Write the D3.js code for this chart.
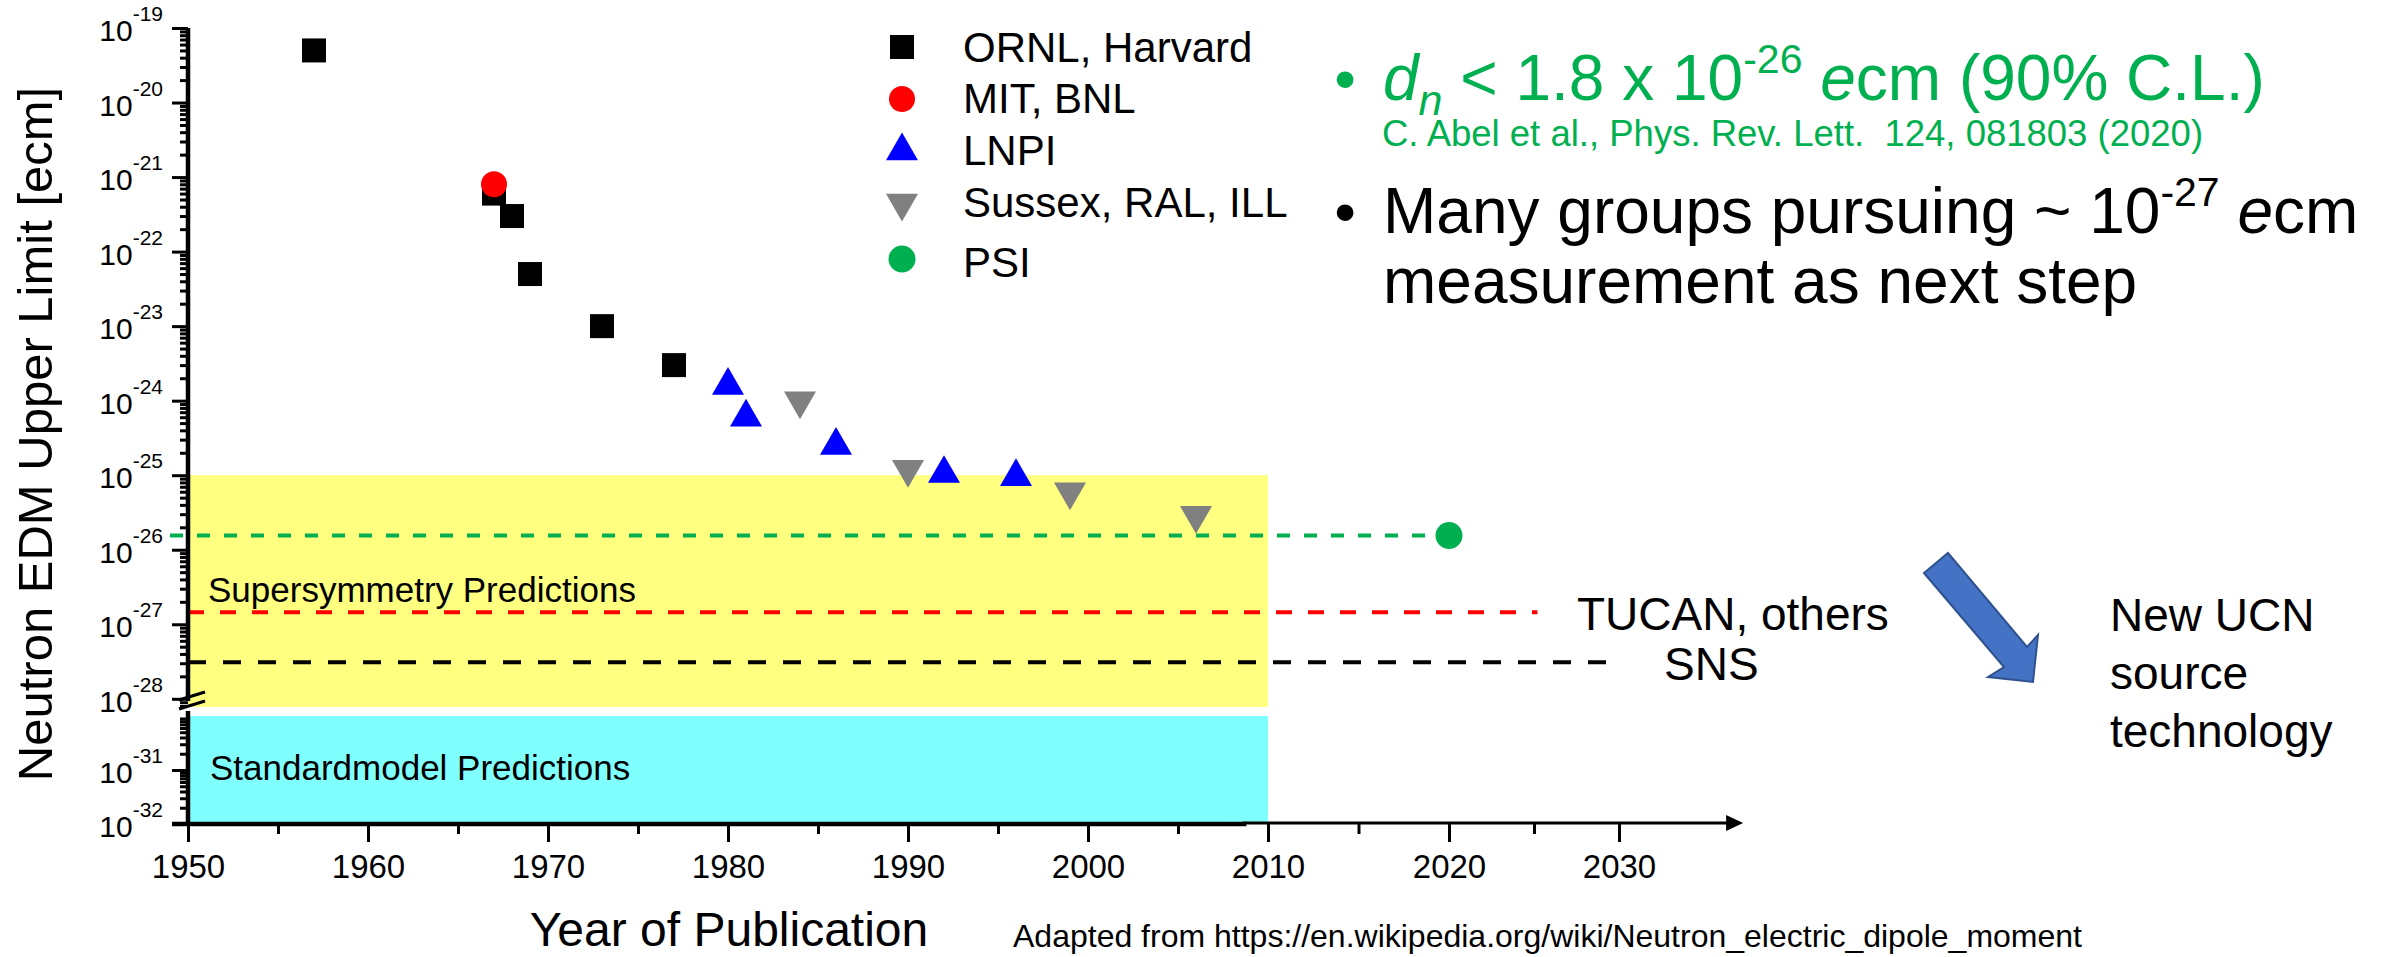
<!DOCTYPE html>
<html><head><meta charset="utf-8">
<script src="https://cdn.jsdelivr.net/npm/d3@7"></script>
<style>
body{margin:0;background:#fff}
svg{display:block}
text{font-family:"Liberation Sans",Arial,sans-serif}
</style>
</head><body>
<svg id="c" width="2387" height="957"></svg>
<script>
// ---------------- data ----------------
const seriesNames = ["ORNL, Harvard", "MIT, BNL", "LNPI", "Sussex, RAL, ILL", "PSI"];
const ornlYears = [1957, 1967, 1968, 1969, 1973, 1977];
const ornlValues = [5e-20, 6e-22, 3e-22, 5e-23, 1e-23, 3e-24];
const mitYears = [1967];
const mitValues = [8e-22];
const lnpiYears = [1980, 1981, 1986, 1992, 1996];
const lnpiValues = [1.6e-24, 6e-25, 2.5e-25, 1.05e-25, 9.5e-26];
const sussexYears = [1984, 1990, 1999, 2006];
const sussexValues = [1e-24, 1.2e-25, 6e-26, 2.9e-26];
const psiYears = [2020];
const psiValues = [1.55e-26];

const xTickYears = [1950, 1960, 1970, 1980, 1990, 2000, 2010, 2020, 2030];
const xMinorYears = [1955, 1965, 1975, 1985, 1995, 2005, 2015, 2025];
const yUpperExps = [-19, -20, -21, -22, -23, -24, -25, -26, -27, -28];
const yLowerExps = [-31, -32];

const refLineNames = ["PSI", "TUCAN, others", "SNS"];
const refLineValues = [1.55e-26, 1.45e-27, 3.1e-28];
const refLineStartYears = [1949, 1950, 1950];
const refLineEndYears = [2020, 2025.2, 2030];

const bandNames = ["Supersymmetry Predictions", "Standardmodel Predictions"];
const susyBandTop = 1e-25;
const smBand = [1e-32, 1e-30];
const bandYears = [1950, 2010];

// ---------------- scales ----------------
const svg = d3.select("#c");
const x = d3.scaleLinear().domain([1950, 2010, 2020, 2030]).range([188, 1268, 1449, 1619]);
const yUp = d3.scaleLog().domain([Math.pow(10, -28.11), 1e-19]).range([707, 28]);
const yLow = d3.scaleLog().domain([1e-32, 1e-30]).range([824, 716]);
const y = v => (v >= yUp.domain()[0] ? yUp(v) : yLow(v));

const GREEN = "#00B050", RED = "#FF0000", BLUE = "#0000FF", GRAY = "#808080";

// ---------------- bands ----------------
svg.append("rect")
  .attr("x", x(bandYears[0])).attr("width", x(bandYears[1]) - x(bandYears[0]))
  .attr("y", yUp(susyBandTop)).attr("height", yUp(yUp.domain()[0]) - yUp(susyBandTop))
  .attr("fill", "#FFFF80");
svg.append("rect")
  .attr("x", x(bandYears[0])).attr("width", x(bandYears[1]) - x(bandYears[0]))
  .attr("y", yLow(smBand[1])).attr("height", yLow(smBand[0]) - yLow(smBand[1]))
  .attr("fill", "#80FFFF");
svg.append("text").attr("x", 208).attr("y", 602).attr("font-size", 35).text(bandNames[0]);
svg.append("text").attr("x", 210).attr("y", 780).attr("font-size", 35).text(bandNames[1]);

// ---------------- reference lines ----------------
const refColors = [GREEN, RED, "#000000"];
const refDash = ["13,14", "16,16", "18,17"];
refLineValues.forEach((v, i) => {
  svg.append("line")
    .attr("x1", x(refLineStartYears[i])).attr("x2", x(refLineEndYears[i]))
    .attr("y1", y(v)).attr("y2", y(v))
    .attr("stroke", refColors[i]).attr("stroke-width", 4)
    .attr("stroke-dasharray", refDash[i]);
});
svg.append("text").attr("x", 1577).attr("y", 630).attr("font-size", 46).text(refLineNames[1]);
svg.append("text").attr("x", 1664).attr("y", 680).attr("font-size", 46).text(refLineNames[2]);

// ---------------- axes ----------------
const yAxisG = svg.append("g").attr("transform", "translate(188,0)");
const upMajor = yUpperExps.map(e => Math.pow(10, e));
const upMinor = [];
for (let e = -29; e <= -20; e++) for (let k = 2; k <= 9; k++) {
  const v = k * Math.pow(10, e);
  if (v > yUp.domain()[0] && v < 1e-19) upMinor.push(v);
}
const loMajor = yLowerExps.map(e => Math.pow(10, e));
const loMinor = [];
for (let e = -32; e <= -31; e++) for (let k = 2; k <= 9; k++) loMinor.push(k * Math.pow(10, e));

function styleAxis(g) {
  g.select(".domain").remove();
  g.selectAll(".tick line").attr("stroke", "#000").attr("stroke-width", 3);
  g.selectAll(".tick text").remove();
}
yAxisG.append("g").call(d3.axisLeft(yUp).tickValues(upMajor).tickSize(16).tickSizeOuter(0)).call(styleAxis);
yAxisG.append("g").call(d3.axisLeft(yUp).tickValues(upMinor).tickSize(8).tickSizeOuter(0)).call(styleAxis);
yAxisG.append("g").call(d3.axisLeft(yLow).tickValues(loMajor).tickSize(16).tickSizeOuter(0)).call(styleAxis);
yAxisG.append("g").call(d3.axisLeft(yLow).tickValues(loMinor).tickSize(8).tickSizeOuter(0)).call(styleAxis);

// y axis lines (broken)
svg.append("line").attr("x1", 188).attr("x2", 188).attr("y1", yUp(1e-19)).attr("y2", 701)
  .attr("stroke", "#000").attr("stroke-width", 4.5);
svg.append("line").attr("x1", 188).attr("x2", 188).attr("y1", 711).attr("y2", 826)
  .attr("stroke", "#000").attr("stroke-width", 4.5);
// break marks
svg.append("line").attr("x1", 179).attr("y1", 700).attr("x2", 205).attr("y2", 692)
  .attr("stroke", "#000").attr("stroke-width", 3);
svg.append("line").attr("x1", 179).attr("y1", 709).attr("x2", 205).attr("y2", 701)
  .attr("stroke", "#000").attr("stroke-width", 3);

// y tick labels
function yLabel(v, exp, scale) {
  const t = svg.append("text").attr("x", 163).attr("y", scale(v) + 13)
    .attr("text-anchor", "end").attr("font-size", 30);
  t.append("tspan").text("10");
  t.append("tspan").attr("font-size", 21).attr("dy", -20).text(String(exp));
}
yUpperExps.forEach(e => yLabel(Math.pow(10, e), e, yUp));
yLowerExps.forEach(e => yLabel(Math.pow(10, e), e, yLow));

// x axis
const xAxisG = svg.append("g").attr("transform", "translate(0,824)");
const xMaj = xAxisG.append("g").call(d3.axisBottom(x).tickValues(xTickYears).tickSize(18).tickSizeOuter(0).tickPadding(13).tickFormat(d3.format("d")));
xMaj.select(".domain").remove();
xMaj.selectAll(".tick line").attr("stroke", "#000").attr("stroke-width", 3);
xMaj.selectAll(".tick text").attr("font-size", 33).attr("fill", "#000")
  .attr("font-family", '"Liberation Sans",Arial,sans-serif');
const xMin = xAxisG.append("g").call(d3.axisBottom(x).tickValues(xMinorYears).tickSize(10).tickSizeOuter(0));
xMin.select(".domain").remove();
xMin.selectAll(".tick line").attr("stroke", "#000").attr("stroke-width", 3);
xMin.selectAll(".tick text").remove();

// x axis lines
svg.append("line").attr("x1", 172).attr("x2", x(2008.8)).attr("y1", 824).attr("y2", 824)
  .attr("stroke", "#000").attr("stroke-width", 4.5);
svg.append("line").attr("x1", x(2008.6)).attr("x2", x(2036.5)).attr("y1", 823).attr("y2", 823)
  .attr("stroke", "#000").attr("stroke-width", 3);
const tipX = x(2037.3);
svg.append("path").attr("d", `M${tipX},823 L${tipX - 17},815 L${tipX - 17},831 Z`).attr("fill", "#000");

// axis titles
svg.append("text").attr("transform", "translate(52,434) rotate(-90)")
  .attr("text-anchor", "middle").attr("font-size", 49).text("Neutron EDM Upper Limit [ecm]");
svg.append("text").attr("x", 729).attr("y", 946).attr("text-anchor", "middle")
  .attr("font-size", 48).text("Year of Publication");
svg.append("text").attr("x", 1013).attr("y", 947).attr("font-size", 32)
  .text("Adapted from https://en.wikipedia.org/wiki/Neutron_electric_dipole_moment");

// ---------------- markers ----------------
const sq = d3.symbol().type(d3.symbolSquare).size(576)();
const tri = d3.symbol().type(d3.symbolTriangle).size(444)();

svg.append("g").selectAll("path").data(ornlYears.map((d, i) => [d, ornlValues[i]])).join("path")
  .attr("d", sq).attr("transform", d => `translate(${x(d[0])},${y(d[1])})`).attr("fill", "#000");
svg.append("g").selectAll("circle").data(mitYears.map((d, i) => [d, mitValues[i]])).join("circle")
  .attr("cx", d => x(d[0])).attr("cy", d => y(d[1])).attr("r", 13).attr("fill", RED);
svg.append("g").selectAll("path").data(lnpiYears.map((d, i) => [d, lnpiValues[i]])).join("path")
  .attr("d", tri).attr("transform", d => `translate(${x(d[0])},${y(d[1])})`).attr("fill", BLUE);
svg.append("g").selectAll("path").data(sussexYears.map((d, i) => [d, sussexValues[i]])).join("path")
  .attr("d", tri).attr("transform", d => `translate(${x(d[0])},${y(d[1])}) rotate(180)`).attr("fill", GRAY);
svg.append("g").selectAll("circle").data(psiYears.map((d, i) => [d, psiValues[i]])).join("circle")
  .attr("cx", d => x(d[0])).attr("cy", d => y(d[1])).attr("r", 13.5).attr("fill", GREEN);

// ---------------- legend ----------------
const legY = [47, 99, 151, 203, 259];
const legBase = [62, 113, 165, 217, 277];
const lg = svg.append("g");
lg.append("path").attr("d", sq).attr("transform", `translate(902,${legY[0]})`).attr("fill", "#000");
lg.append("circle").attr("cx", 902).attr("cy", legY[1]).attr("r", 13).attr("fill", RED);
lg.append("path").attr("d", tri).attr("transform", `translate(902,${legY[2]})`).attr("fill", BLUE);
lg.append("path").attr("d", tri).attr("transform", `translate(902,${legY[3]}) rotate(180)`).attr("fill", GRAY);
lg.append("circle").attr("cx", 902).attr("cy", legY[4]).attr("r", 13.5).attr("fill", GREEN);
seriesNames.forEach((n, i) => {
  lg.append("text").attr("x", 963).attr("y", legBase[i]).attr("font-size", 42).text(n);
});

// ---------------- right-hand annotations ----------------
const g1 = svg.append("text").attr("x", 1383).attr("y", 100).attr("font-size", 64).attr("fill", GREEN);
g1.append("tspan").attr("font-style", "italic").text("d");
g1.append("tspan").attr("font-style", "italic").attr("font-size", 43).attr("dy", 15).text("n");
g1.append("tspan").attr("dy", -15).text(" < 1.8 x 10");
g1.append("tspan").attr("font-size", 41).attr("dy", -27).text("-26");
g1.append("tspan").attr("dy", 27).text(" ");
g1.append("tspan").attr("font-style", "italic").text("e");
g1.append("tspan").text("cm (90% C.L.)");
svg.append("text").attr("x", 1345).attr("y", 100).attr("text-anchor", "middle")
  .attr("font-size", 62).attr("fill", GREEN).text("•");
svg.append("text").attr("x", 1382).attr("y", 146).attr("font-size", 36.5).attr("fill", GREEN)
  .style("white-space", "pre")
  .text("C. Abel et al., Phys. Rev. Lett.  124, 081803 (2020)");

svg.append("text").attr("x", 1345).attr("y", 233).attr("text-anchor", "middle")
  .attr("font-size", 62).text("•");
const b1 = svg.append("text").attr("x", 1383).attr("y", 233).attr("font-size", 64);
b1.append("tspan").text("Many groups pursuing ~ 10");
b1.append("tspan").attr("font-size", 41).attr("dy", -27).text("-27");
b1.append("tspan").attr("dy", 27).text(" ");
b1.append("tspan").attr("font-style", "italic").text("e");
b1.append("tspan").text("cm");
svg.append("text").attr("x", 1383).attr("y", 303).attr("font-size", 64).text("measurement as next step");

// block arrow
const ax0 = 1924, ay0 = 553;
const arrowPts = [[0, 20], [24, 0], [103, 94], [114, 82], [109, 129], [64, 124], [80, 114]];
svg.append("path")
  .attr("d", d3.line()(arrowPts.map(p => [ax0 + p[0], ay0 + p[1]])) + "Z")
  .attr("fill", "#4472C4").attr("stroke", "#2F528F").attr("stroke-width", 2);

const ucn = ["New UCN", "source", "technology"];
ucn.forEach((t, i) => {
  svg.append("text").attr("x", 2110).attr("y", 631 + i * 58).attr("font-size", 46).text(t);
});
</script>
</body></html>
